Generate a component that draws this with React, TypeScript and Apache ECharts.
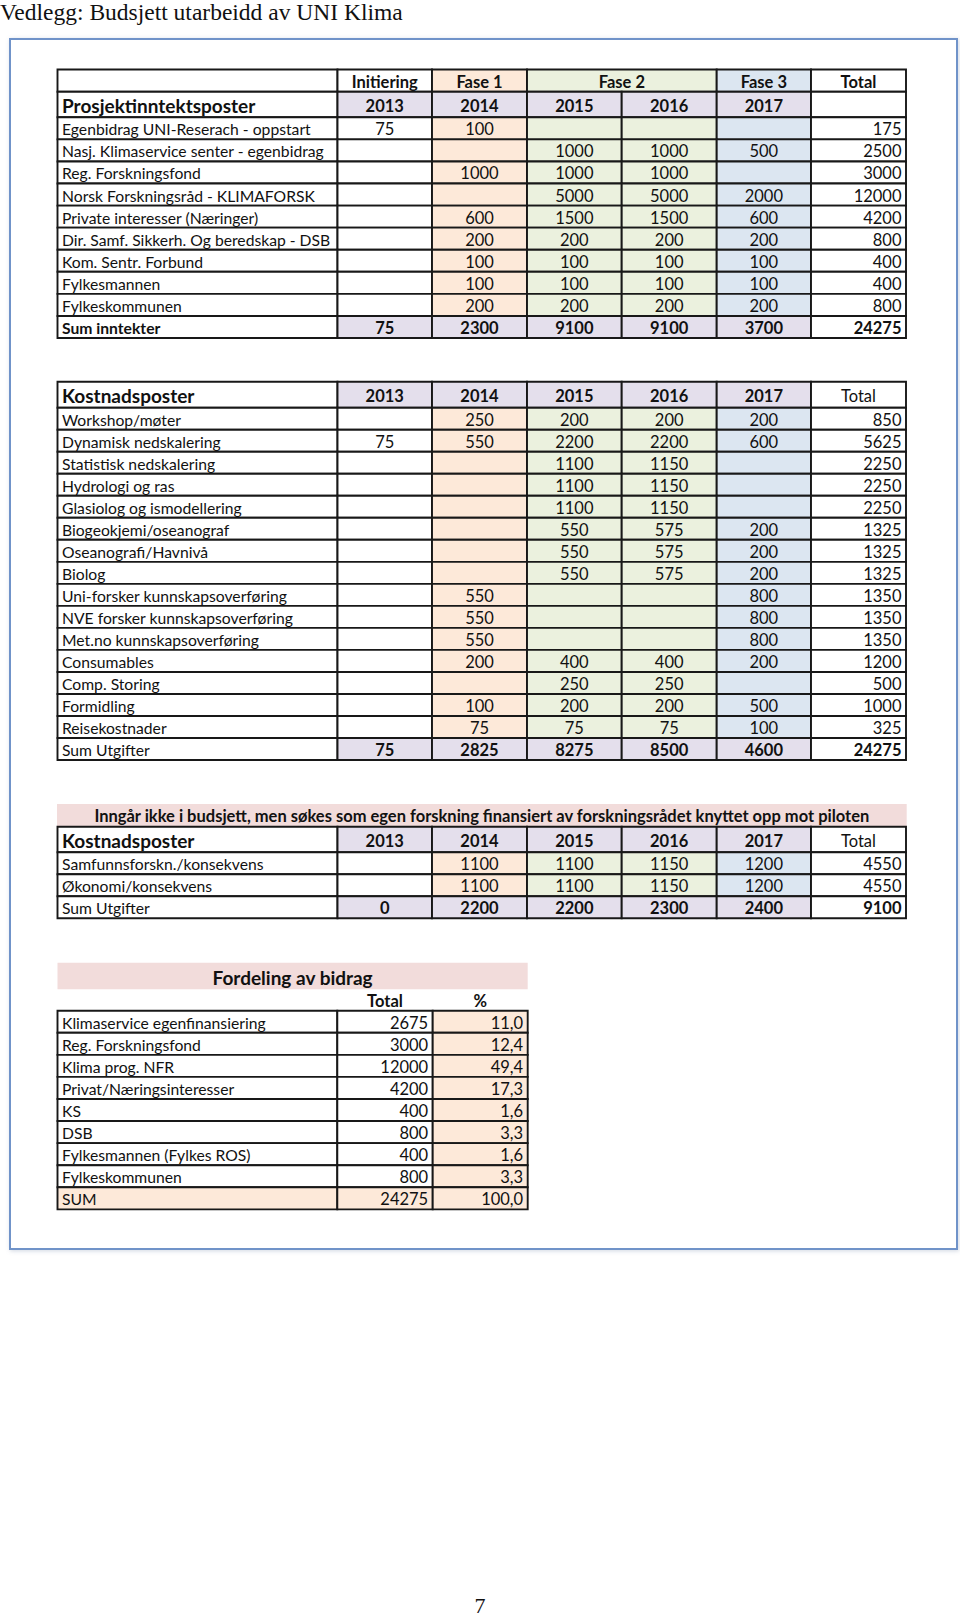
import React, { useEffect, useRef } from "react";
import * as echarts from "echarts";

// ---------------- DATA ----------------
const PAGE_TITLE = "Vedlegg: Budsjett utarbeidd av UNI Klima";
const PAGE_NUMBER = "7";
const PHASES = ["Initiering", "Fase 1", "Fase 2", "Fase 3", "Total"];
const YEARS = ["2013", "2014", "2015", "2016", "2017"];

const INCOME_TITLE = "Prosjektinntektsposter";
const INCOME_LABELS = [
  "Egenbidrag UNI-Reserach - oppstart",
  "Nasj. Klimaservice senter - egenbidrag",
  "Reg. Forskningsfond",
  "Norsk Forskningsråd - KLIMAFORSK",
  "Private interesser (Næringer)",
  "Dir. Samf. Sikkerh. Og beredskap - DSB",
  "Kom. Sentr. Forbund",
  "Fylkesmannen",
  "Fylkeskommunen",
];
const INCOME_2013 = [75, null, null, null, null, null, null, null, null];
const INCOME_2014 = [100, null, 1000, null, 600, 200, 100, 100, 200];
const INCOME_2015 = [null, 1000, 1000, 5000, 1500, 200, 100, 100, 200];
const INCOME_2016 = [null, 1000, 1000, 5000, 1500, 200, 100, 100, 200];
const INCOME_2017 = [null, 500, null, 2000, 600, 200, 100, 100, 200];
const INCOME_TOTAL = [175, 2500, 3000, 12000, 4200, 800, 400, 400, 800];
const INCOME_SUM_LABEL = "Sum inntekter";
const INCOME_SUM = [75, 2300, 9100, 9100, 3700, 24275];

const COST_TITLE = "Kostnadsposter";
const COST_LABELS = [
  "Workshop/møter",
  "Dynamisk nedskalering",
  "Statistisk nedskalering",
  "Hydrologi og ras",
  "Glasiolog og ismodellering",
  "Biogeokjemi/oseanograf",
  "Oseanografi/Havnivå",
  "Biolog",
  "Uni-forsker kunnskapsoverføring",
  "NVE forsker kunnskapsoverføring",
  "Met.no kunnskapsoverføring",
  "Consumables",
  "Comp. Storing",
  "Formidling",
  "Reisekostnader",
];
const COST_2013 = [null, 75, null, null, null, null, null, null, null, null, null, null, null, null, null];
const COST_2014 = [250, 550, null, null, null, null, null, null, 550, 550, 550, 200, null, 100, 75];
const COST_2015 = [200, 2200, 1100, 1100, 1100, 550, 550, 550, null, null, null, 400, 250, 200, 75];
const COST_2016 = [200, 2200, 1150, 1150, 1150, 575, 575, 575, null, null, null, 400, 250, 200, 75];
const COST_2017 = [200, 600, null, null, null, 200, 200, 200, 800, 800, 800, 200, null, 500, 100];
const COST_TOTAL = [850, 5625, 2250, 2250, 2250, 1325, 1325, 1325, 1350, 1350, 1350, 1200, 500, 1000, 325];
const COST_SUM_LABEL = "Sum Utgifter";
const COST_SUM = [75, 2825, 8275, 8500, 4600, 24275];

const EXTRA_BANNER =
  "Inngår ikke i budsjett, men søkes som egen forskning finansiert av forskningsrådet knyttet opp mot piloten";
const EXTRA_LABELS = ["Samfunnsforskn./konsekvens", "Økonomi/konsekvens"];
const EXTRA_2013 = [null, null];
const EXTRA_2014 = [1100, 1100];
const EXTRA_2015 = [1100, 1100];
const EXTRA_2016 = [1150, 1150];
const EXTRA_2017 = [1200, 1200];
const EXTRA_TOTAL = [4550, 4550];
const EXTRA_SUM = [0, 2200, 2200, 2300, 2400, 9100];

const SHARE_TITLE = "Fordeling av bidrag";
const SHARE_HEADERS = ["Total", "%"];
const SHARE_LABELS = [
  "Klimaservice egenfinansiering",
  "Reg. Forskningsfond",
  "Klima prog. NFR",
  "Privat/Næringsinteresser",
  "KS",
  "DSB",
  "Fylkesmannen (Fylkes ROS)",
  "Fylkeskommunen",
  "SUM",
];
const SHARE_TOTAL = [2675, 3000, 12000, 4200, 400, 800, 400, 800, 24275];
const SHARE_PCT = [11.0, 12.4, 49.4, 17.3, 1.6, 3.3, 1.6, 3.3, 100.0];

// ---------------- STYLE / LAYOUT ----------------
const WHITE = "#ffffff";
const LAVENDER = "#e4dfec";
const PEACH = "#fde9d9";
const GREEN = "#ebf1de";
const BLUE = "#dce6f1";
const PINK = "#f2dcdb";
const INK = "#111111";
const FONT = "Lato, 'Open Sans', sans-serif";
const YEAR_FILLS = [WHITE, PEACH, GREEN, GREEN, BLUE];
const NUM_SIZE = 16.5;
const LABEL_SIZE = 15.7;
const BIG_SIZE = 19;

type Cell = {
  x0: number; y0: number; x1: number; y1: number;
  text: string; fill: string; border: boolean;
  bold: boolean; size: number; align: "left" | "center" | "right";
};

const cells: Cell[] = [];
function add(x0: number, y0: number, x1: number, y1: number, text: string, o: Partial<Cell> = {}) {
  cells.push({
    x0, y0, x1, y1, text,
    fill: o.fill ?? WHITE,
    border: o.border ?? true,
    bold: o.bold ?? false,
    size: o.size ?? NUM_SIZE,
    align: o.align ?? "center",
  });
}
const fmt = (v: number | null) => (v === null || v === undefined ? "" : String(v));

const COLS = [57.5, 337.5, 432, 527, 621.7, 716.7, 811, 906];

function dataRows(
  top: number, rowH: number, labels: string[], years: (number | null)[][], totals: number[]
) {
  labels.forEach((lab, i) => {
    const y0 = top + i * rowH, y1 = y0 + rowH;
    add(COLS[0], y0, COLS[1], y1, lab, { align: "left", size: LABEL_SIZE });
    for (let k = 0; k < 5; k++) add(COLS[k + 1], y0, COLS[k + 2], y1, fmt(years[k][i]), { fill: YEAR_FILLS[k] });
    add(COLS[6], y0, COLS[7], y1, fmt(totals[i]), { align: "right" });
  });
}
function sumRow(y0: number, y1: number, label: string, labelBold: boolean, sums: number[]) {
  add(COLS[0], y0, COLS[1], y1, label, { align: "left", bold: labelBold, size: LABEL_SIZE });
  for (let k = 0; k < 5; k++) add(COLS[k + 1], y0, COLS[k + 2], y1, fmt(sums[k]), { fill: LAVENDER, bold: true });
  add(COLS[6], y0, COLS[7], y1, fmt(sums[5]), { align: "right", bold: true });
}
function yearHeader(y0: number, y1: number, title: string, totalText: string) {
  add(COLS[0], y0, COLS[1], y1, title, { align: "left", bold: true, size: BIG_SIZE });
  for (let k = 0; k < 5; k++) add(COLS[k + 1], y0, COLS[k + 2], y1, YEARS[k], { fill: LAVENDER, bold: true });
  add(COLS[6], y0, COLS[7], y1, totalText);
}

// Table 1 : income
{
  const h0 = 69.5, h1 = 91.7, h2 = 117.3, rowH = 22.07;
  add(COLS[0], h0, COLS[1], h1, "");
  add(COLS[1], h0, COLS[2], h1, PHASES[0], { bold: true });
  add(COLS[2], h0, COLS[3], h1, PHASES[1], { bold: true, fill: PEACH });
  add(COLS[3], h0, COLS[5], h1, PHASES[2], { bold: true, fill: GREEN });
  add(COLS[5], h0, COLS[6], h1, PHASES[3], { bold: true, fill: BLUE });
  add(COLS[6], h0, COLS[7], h1, PHASES[4], { bold: true });
  yearHeader(h1, h2, INCOME_TITLE, "");
  dataRows(h2, rowH, INCOME_LABELS, [INCOME_2013, INCOME_2014, INCOME_2015, INCOME_2016, INCOME_2017], INCOME_TOTAL);
  const sy = h2 + INCOME_LABELS.length * rowH;
  sumRow(sy, sy + rowH, INCOME_SUM_LABEL, true, INCOME_SUM);
}
// Table 2 : costs
{
  const h0 = 381.7, h1 = 407.7, rowH = 22.02;
  yearHeader(h0, h1, COST_TITLE, "Total");
  dataRows(h1, rowH, COST_LABELS, [COST_2013, COST_2014, COST_2015, COST_2016, COST_2017], COST_TOTAL);
  const sy = h1 + COST_LABELS.length * rowH;
  sumRow(sy, sy + rowH, COST_SUM_LABEL, false, COST_SUM);
}
// Table 3 : extra
{
  add(57, 804, 906.7, 826.7, EXTRA_BANNER, { fill: PINK, border: false, bold: true });
  const h0 = 826.7, h1 = 852.3, rowH = 22;
  yearHeader(h0, h1, COST_TITLE, "Total");
  dataRows(h1, rowH, EXTRA_LABELS, [EXTRA_2013, EXTRA_2014, EXTRA_2015, EXTRA_2016, EXTRA_2017], EXTRA_TOTAL);
  const sy = h1 + EXTRA_LABELS.length * rowH;
  sumRow(sy, sy + rowH, COST_SUM_LABEL, false, EXTRA_SUM);
}
// Table 4 : share
{
  const SC = [57.5, 337.3, 432.7, 527.7];
  add(SC[0], 962.7, SC[3], 989.3, SHARE_TITLE, { fill: PINK, border: false, bold: true, size: BIG_SIZE });
  add(SC[1], 989.3, SC[2], 1010.7, SHARE_HEADERS[0], { border: false, bold: true, fill: "rgba(0,0,0,0)" });
  add(SC[2], 989.3, SC[3], 1010.7, SHARE_HEADERS[1], { border: false, bold: true, fill: "rgba(0,0,0,0)" });
  const top = 1010.7, rowH = 22.07;
  SHARE_LABELS.forEach((lab, i) => {
    const y0 = top + i * rowH, y1 = y0 + rowH;
    const last = i === SHARE_LABELS.length - 1;
    add(SC[0], y0, SC[1], y1, lab, { align: "left", size: LABEL_SIZE, fill: last ? PEACH : WHITE });
    add(SC[1], y0, SC[2], y1, String(SHARE_TOTAL[i]), { align: "right", fill: last ? PEACH : WHITE });
    add(SC[2], y0, SC[3], y1, SHARE_PCT[i].toFixed(1).replace(".", ","), { align: "right", fill: PEACH });
  });
}

export default function App() {
  const ref = useRef<HTMLDivElement>(null);
  useEffect(() => {
    document.body.style.margin = "0";
    const chart = echarts.init(ref.current!, undefined, { renderer: "svg" });
    chart.setOption({
      animation: false,
      backgroundColor: "#ffffff",
      grid: { left: 0, right: 0, top: 0, bottom: 0, containLabel: false },
      xAxis: { type: "value", min: 0, max: 960, show: false },
      yAxis: { type: "value", min: 0, max: 1617, inverse: true, show: false },
      graphic: [
        {
          type: "rect",
          z: 0,
          shape: { x: 10, y: 39, width: 947, height: 1210 },
          style: {
            fill: "#ffffff",
            stroke: "#6f93c9",
            lineWidth: 2,
            shadowBlur: 4,
            shadowColor: "rgba(120,140,170,0.35)",
            shadowOffsetX: 1,
            shadowOffsetY: 1,
          },
        },
        {
          type: "text",
          z: 5,
          style: {
            text: PAGE_TITLE, x: 0, y: 12, align: "left", verticalAlign: "middle",
            fontFamily: "'Liberation Serif', 'Times New Roman', serif", fontSize: 23.5, fill: "#111",
          },
        },
        {
          type: "text",
          z: 5,
          style: {
            text: PAGE_NUMBER, x: 480, y: 1605.5, align: "center", verticalAlign: "middle",
            fontFamily: "'Liberation Serif', 'Times New Roman', serif", fontSize: 22, fill: "#111",
          },
        },
      ],
      series: [
        {
          type: "custom",
          coordinateSystem: "cartesian2d",
          clip: false,
          silent: true,
          z: 10,
          data: cells.map((c) => [c.x0, c.y0, c.x1, c.y1]),
          renderItem: (params: any, api: any) => {
            const c = cells[params.dataIndex];
            const p0 = api.coord([api.value(0), api.value(1)]);
            const p1 = api.coord([api.value(2), api.value(3)]);
            const children: any[] = [
              {
                type: "rect",
                shape: { x: p0[0], y: p0[1], width: p1[0] - p0[0], height: p1[1] - p0[1] },
                style: {
                  fill: c.fill,
                  stroke: c.border ? "#181818" : null,
                  lineWidth: c.border ? 1.9 : 0,
                },
              },
            ];
            if (c.text) {
              const tx = c.align === "left" ? p0[0] + 4.5 : c.align === "right" ? p1[0] - 4.5 : (p0[0] + p1[0]) / 2;
              children.push({
                type: "text",
                style: {
                  text: c.text,
                  x: tx,
                  y: (p0[1] + p1[1]) / 2 + 1,
                  align: c.align,
                  verticalAlign: "middle",
                  fontFamily: FONT,
                  fontSize: c.size,
                  fontWeight: c.bold ? "bold" : "normal",
                  fill: INK,
                },
              });
            }
            return { type: "group", children };
          },
        },
      ],
    });
    return () => chart.dispose();
  }, []);
  return <div ref={ref} style={{ width: 960, height: 1617 }} />;
}
